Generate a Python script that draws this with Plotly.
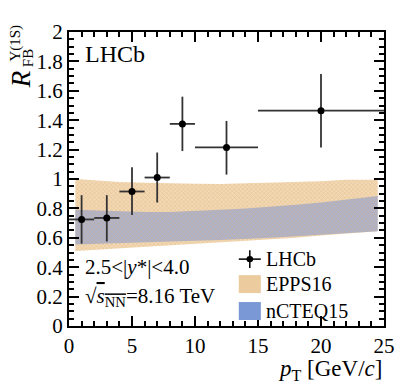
import plotly.graph_objects as go

# LHCb data points
pt = [1, 3, 5, 7, 9, 12.5, 20]
pt_err = [1, 1, 1, 1, 1, 2.5, 5]
rfb = [0.725, 0.735, 0.915, 1.01, 1.375, 1.215, 1.465]
rfb_up = [0.165, 0.155, 0.165, 0.17, 0.185, 0.18, 0.25]
rfb_dn = [0.165, 0.16, 0.16, 0.17, 0.185, 0.185, 0.25]

# model bands
band_x = [0.5, 2, 4, 6, 8, 10, 12, 14, 16, 18, 20, 22, 24.5]
epps_hi = [1.0, 0.99, 0.98, 0.975, 0.97, 0.967, 0.966, 0.97, 0.975, 0.98, 0.985, 0.995, 0.995]
epps_lo = [0.51, 0.52, 0.53, 0.54, 0.55, 0.555, 0.565, 0.575, 0.59, 0.60, 0.615, 0.63, 0.645]
ncteq_hi = [0.79, 0.785, 0.78, 0.775, 0.775, 0.78, 0.79, 0.80, 0.81, 0.825, 0.84, 0.86, 0.885]
ncteq_lo = [0.555, 0.56, 0.565, 0.57, 0.575, 0.58, 0.585, 0.59, 0.60, 0.61, 0.62, 0.63, 0.645]

FONT = "Liberation Serif"
ORANGE = "#dfa865"

epps_x = band_x + band_x[::-1]
epps_y = epps_hi + epps_lo[::-1]

fig = go.Figure()

# EPPS16 base tint, nCTEQ15 on top, then the EPPS16 hatch over both
fig.add_trace(go.Scatter(x=epps_x, y=epps_y, fill="toself", mode="lines",
                         line=dict(width=0), fillcolor="#f2d9b6", showlegend=False))
fig.add_trace(go.Scatter(
    x=band_x + band_x[::-1], y=ncteq_hi + ncteq_lo[::-1],
    fill="toself", mode="lines", line=dict(width=0),
    fillcolor="rgba(128,154,216,0.6)", showlegend=False,
))
fig.add_trace(go.Scatter(
    x=epps_x, y=epps_y, fill="toself", mode="lines", line=dict(width=0),
    fillcolor="rgba(0,0,0,0)",
    fillpattern=dict(shape="x", fgcolor=ORANGE, bgcolor="rgba(0,0,0,0)",
                     size=3, solidity=0.35, fillmode="overlay"),
    showlegend=False,
))
fig.add_trace(go.Scatter(
    x=pt, y=rfb, mode="markers",
    marker=dict(color="black", size=7),
    error_x=dict(type="data", array=pt_err, color="#333333", thickness=1.8, width=0),
    error_y=dict(type="data", symmetric=False, array=rfb_up, arrayminus=rfb_dn,
                 color="#333333", thickness=1.8, width=0),
    showlegend=False,
))

axis_common = dict(
    showline=True, linecolor="black", linewidth=2, mirror="ticks",
    ticks="inside", ticklen=10, tickwidth=1.5, tickcolor="black",
    showgrid=False, zeroline=False,
    tickfont=dict(family=FONT, size=21, color="black"),
)
fig.update_xaxes(range=[0, 25], dtick=5,
                 minor=dict(dtick=1, ticks="inside", ticklen=5, tickwidth=1.5, tickcolor="black"),
                 **axis_common)
fig.update_yaxes(range=[0, 2], dtick=0.2, tickformat="~g",
                 minor=dict(dtick=0.05, ticks="inside", ticklen=5, tickwidth=1.5, tickcolor="black"),
                 **axis_common)

# page body has an 8px margin, so the figure is shrunk/shifted to match
fig.update_layout(
    width=399, height=383,
    margin=dict(l=61, r=21, t=23, b=65),
    plot_bgcolor="white", paper_bgcolor="white",
    font=dict(family=FONT, color="black"),
    showlegend=False,
)

# axis titles
fig.add_annotation(text="<i>R</i>", x=-0.152, y=0.84, xref="paper", yref="paper",
                   showarrow=False, textangle=-90, font=dict(size=27, family=FONT),
                   xanchor="center", yanchor="middle")
fig.add_annotation(text="Υ(1S)", x=-0.17, y=0.962, xref="paper", yref="paper",
                   showarrow=False, textangle=-90, font=dict(size=15, family=FONT),
                   xanchor="center", yanchor="middle")
fig.add_annotation(text="FB", x=-0.128, y=0.91, xref="paper", yref="paper",
                   showarrow=False, textangle=-90, font=dict(size=15, family=FONT),
                   xanchor="center", yanchor="middle")
fig.add_annotation(text="<i>p</i><sub>T</sub> [GeV/<i>c</i>]", x=1.0, y=-0.15,
                   xref="paper", yref="paper", showarrow=False, xanchor="right", yanchor="middle",
                   font=dict(size=23, family=FONT))

# labels inside
fig.add_annotation(text="LHCb", x=0.045, y=0.925, xref="paper", yref="paper",
                   showarrow=False, xanchor="left", yanchor="middle",
                   font=dict(size=24, family=FONT))
fig.add_annotation(text="2.5<|<i>y</i>*|<4.0", x=0.045, y=0.2, xref="paper", yref="paper",
                   showarrow=False, xanchor="left", yanchor="middle",
                   font=dict(size=21, family=FONT))
fig.add_annotation(text="√<span style='text-decoration:overline'><i>s</i><sub>NN</sub></span>=8.16 TeV",
                   x=0.045, y=0.1, xref="paper", yref="paper",
                   showarrow=False, xanchor="left", yanchor="middle",
                   font=dict(size=21, family=FONT))

# hand-drawn legend
leg_x0, leg_x1, leg_tx = 0.539, 0.609, 0.62
fig.add_shape(type="line", xref="paper", yref="paper", x0=leg_x0, x1=leg_x1, y0=0.2275, y1=0.2275,
              line=dict(color="black", width=1.5))
fig.add_shape(type="line", xref="paper", yref="paper", x0=0.574, x1=0.574, y0=0.197, y1=0.258,
              line=dict(color="black", width=1.5))
fig.add_shape(type="circle", xref="paper", yref="paper", x0=0.5635, x1=0.5845, y0=0.2165, y1=0.2385,
              fillcolor="black", line=dict(width=0))
fig.add_shape(type="rect", xref="paper", yref="paper", x0=leg_x0, x1=leg_x1, y0=0.112, y1=0.173,
              fillcolor="#eccb9f", line=dict(width=0))
fig.add_shape(type="rect", xref="paper", yref="paper", x0=leg_x0, x1=leg_x1, y0=0.0204, y1=0.0815,
              fillcolor="#7b98d6", line=dict(width=0))
for label, ly in [("LHCb", 0.2275), ("EPPS16", 0.1426), ("nCTEQ15", 0.051)]:
    fig.add_annotation(text=label, x=leg_tx, y=ly, xref="paper", yref="paper",
                       showarrow=False, xanchor="left", yanchor="middle",
                       font=dict(size=20, family=FONT))

fig.write_html("out.html")
